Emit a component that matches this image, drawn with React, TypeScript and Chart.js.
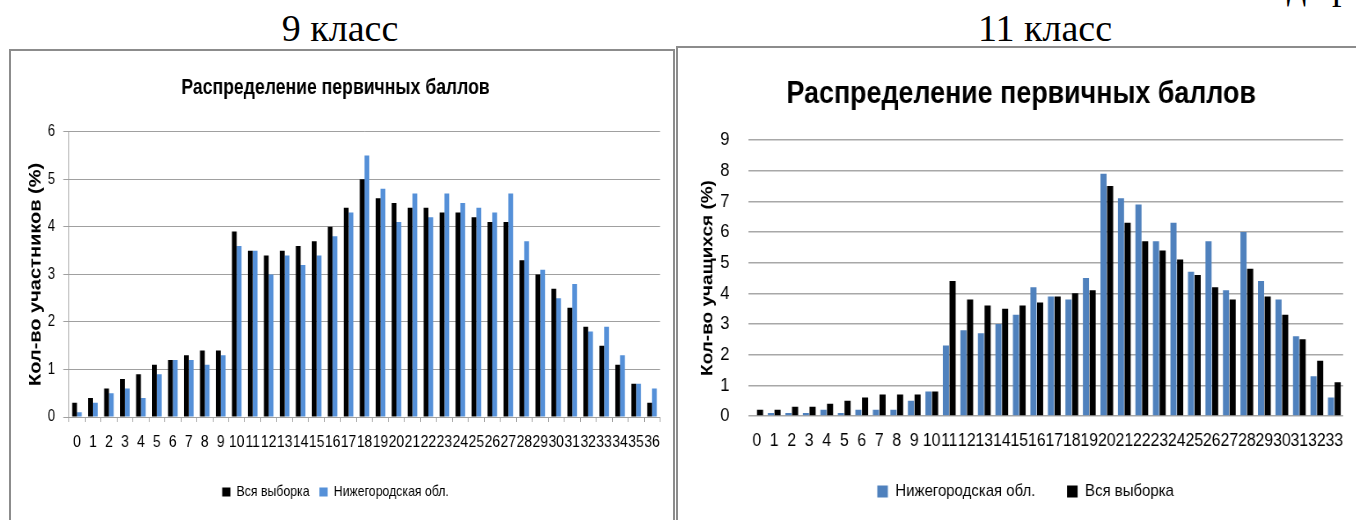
import React, { useEffect, useRef } from "react";
import { Chart, registerables } from "chart.js";

Chart.register(...registerables);

// ---------- 9 класс ----------
const scores9 = ["0","1","2","3","4","5","6","7","8","9","10","11","12","13","14","15","16","17","18","19","20","21","22","23","24","25","26","27","28","29","30","31","32","33","34","35","36"];
const all9 = [0.3,0.4,0.6,0.8,0.9,1.1,1.2,1.3,1.4,1.4,3.9,3.5,3.4,3.5,3.6,3.7,4.0,4.4,5.0,4.6,4.5,4.4,4.4,4.3,4.3,4.2,4.1,4.1,3.3,3.0,2.7,2.3,1.9,1.5,1.1,0.7,0.3];
const nn9 = [0.1,0.3,0.5,0.6,0.4,0.9,1.2,1.2,1.1,1.3,3.6,3.5,3.0,3.4,3.2,3.4,3.8,4.3,5.5,4.8,4.1,4.7,4.2,4.7,4.5,4.4,4.3,4.7,3.7,3.1,2.5,2.8,1.8,1.9,1.3,0.7,0.6];

// ---------- 11 класс ----------
const scores11 = ["0","1","2","3","4","5","6","7","8","9","10","11","12","13","14","15","16","17","18","19","20","21","22","23","24","25","26","27","28","29","30","31","32","33"];
const nn11 = [0,0.1,0.1,0.1,0.2,0.1,0.2,0.2,0.2,0.5,0.8,2.3,2.8,2.7,3.0,3.3,4.2,3.9,3.8,4.5,7.9,7.1,6.9,5.7,6.3,4.7,5.7,4.1,6.0,4.4,3.8,2.6,1.3,0.6];
const all11 = [0.2,0.2,0.3,0.3,0.4,0.5,0.6,0.7,0.7,0.7,0.8,4.4,3.8,3.6,3.5,3.6,3.7,3.9,4.0,4.1,7.5,6.3,5.7,5.4,5.1,4.6,4.2,3.8,4.8,3.9,3.3,2.5,1.8,1.1];

const chartTitle = "Распределение первичных баллов";
const SANS = "'Liberation Sans', Arial, sans-serif";

// nudges the legend / title boxes after layout (the original centres them on its full, cropped frame)
function boxShift(legendDx: number, legendDy: number, titleDx: number): any {
  return {
    id: "boxShift",
    afterLayout(chart: any) {
      if (chart.legend) {
        chart.legend.left += legendDx;
        chart.legend.right += legendDx;
        chart.legend.top += legendDy;
        chart.legend.bottom += legendDy;
      }
      if (chart.titleBlock) {
        chart.titleBlock.left += titleDx;
        chart.titleBlock.right += titleDx;
      }
    },
  };
}

function config9(): any {
  return {
    type: "bar",
    data: {
      labels: scores9,
      datasets: [
        { label: "Вся выборка", data: all9, backgroundColor: "#000000", categoryPercentage: 0.6, barPercentage: 1.0 },
        { label: "Нижегородская обл.", data: nn9, backgroundColor: "#5590d8", categoryPercentage: 0.6, barPercentage: 1.0 },
      ],
    },
    options: {
      animation: false,
      responsive: false,
      maintainAspectRatio: false,
      layout: { padding: { left: 0, right: 14.5, top: 0, bottom: 10.5 } },
      plugins: {
        tooltip: { enabled: false },
        title: {
          display: true,
          text: chartTitle,
          color: "#000",
          font: { family: SANS, size: 21.5, weight: "bold" },
          padding: { top: 24, bottom: 31 },
        },
        legend: {
          position: "bottom",
          labels: {
            color: "#000",
            font: { family: SANS, size: 15 },
            boxWidth: 10,
            boxHeight: 9,
            padding: 12,
          },
        },
      },
      scales: {
        x: {
          grid: { display: true, drawOnChartArea: false, drawTicks: true, tickLength: 5, color: "#a0a0a0", offset: true },
          border: { display: true, color: "#a0a0a0" },
          ticks: { color: "#000", font: { family: SANS, size: 17 }, autoSkip: false, maxRotation: 0, minRotation: 0, padding: 10 },
          afterFit: (s: any) => { s.height = 55.5; },
        },
        y: {
          min: 0,
          max: 6,
          ticks: { stepSize: 1, color: "#000", font: { family: SANS, size: 16 }, padding: 10 },
          grid: { color: "#a0a0a0", tickLength: 7, drawTicks: true },
          border: { display: true, color: "#a0a0a0" },
          title: {
            display: true,
            text: "Кол-во участников (%)",
            color: "#000",
            font: { family: SANS, size: 20, weight: "bold" },
            padding: { top: 18, bottom: 0 },
          },
          afterFit: (s: any) => { s.width = 70.7; },
        },
      },
    },
  };
}

function config11(): any {
  return {
    type: "bar",
    data: {
      labels: scores11,
      datasets: [
        { label: "Нижегородская обл.", data: nn11, backgroundColor: "#4f81bd", categoryPercentage: 0.76, barPercentage: 0.92 },
        { label: "Вся выборка", data: all11, backgroundColor: "#000000", categoryPercentage: 0.76, barPercentage: 0.92 },
      ],
    },
    options: {
      animation: false,
      responsive: false,
      maintainAspectRatio: false,
      layout: { padding: { left: 0, right: 10, top: 0, bottom: 0 } },
      plugins: {
        tooltip: { enabled: false },
        title: {
          display: true,
          text: chartTitle,
          color: "#000",
          font: { family: SANS, size: 30.5, weight: "bold" },
          padding: { top: 28.7, bottom: 26.7 },
        },
        legend: {
          position: "bottom",
          maxHeight: 54,
          labels: {
            color: "#000",
            font: { family: SANS, size: 17 },
            boxWidth: 12,
            boxHeight: 12,
            padding: 36,
          },
        },
      },
      scales: {
        x: {
          grid: { display: false, drawTicks: false },
          border: { display: false },
          ticks: { color: "#000", font: { family: SANS, size: 18 }, autoSkip: false, maxRotation: 0, minRotation: 0, padding: 14 },
          afterFit: (s: any) => { s.height = 50; },
        },
        y: {
          min: 0,
          max: 9,
          ticks: { stepSize: 1, color: "#000", font: { family: SANS, size: 19 }, padding: 21 },
          grid: { color: "#a8a8a8", lineWidth: 1.5, drawTicks: false },
          border: { display: false },
          title: {
            display: true,
            text: "Кол-во учащихся (%)",
            color: "#000",
            font: { family: SANS, size: 19, weight: "bold" },
            padding: { top: 22.6, bottom: 0 },
          },
          afterFit: (s: any) => { s.width = 79.5; },
        },
      },
    },
    plugins: [boxShift(15, -19, 10)],
  };
}

function BarChart(props: { make: () => any; width: number; height: number; squeeze: number; left: number; top: number }) {
  const ref = useRef<HTMLCanvasElement | null>(null);
  useEffect(() => {
    if (!ref.current) return;
    const chart = new Chart(ref.current, props.make());
    return () => chart.destroy();
  }, []);
  return (
    <canvas
      ref={ref}
      width={props.width}
      height={props.height}
      style={{
        position: "absolute",
        left: props.left,
        top: props.top,
        width: props.width,
        height: props.height,
        transform: `scaleX(${props.squeeze})`,
        transformOrigin: "0 0",
      }}
    />
  );
}

const headingStyle: React.CSSProperties = {
  position: "absolute",
  fontFamily: "'Liberation Serif', 'Times New Roman', serif",
  fontSize: 38,
  lineHeight: "44px",
  color: "#000",
  whiteSpace: "nowrap",
  textAlign: "center",
};

export default function App() {
  return (
    <div style={{ position: "absolute", left: 0, top: 0, width: 1356, height: 520, overflow: "hidden", background: "#fff" }}>
      <div style={{ ...headingStyle, left: 1287, top: -36, textAlign: "left" }}>д</div>
      <div style={{ ...headingStyle, left: 1332, top: -36, textAlign: "left" }}>р</div>
      <div style={{ ...headingStyle, left: 190, top: 6, width: 300 }}>9 класс</div>
      <div style={{ ...headingStyle, left: 895, top: 6, width: 300 }}>11 класс</div>

      <div style={{ position: "absolute", left: 9, top: 49, width: 662, height: 500, border: "2px solid #8c8c8c" }} />
      <div style={{ position: "absolute", left: 676, top: 46, width: 700, height: 500, border: "2px solid #8c8c8c" }} />

      <BarChart make={config9} width={806} height={469} squeeze={0.82} left={11} top={51} />
      <BarChart make={config11} width={770} height={472} squeeze={0.88} left={678} top={48} />
    </div>
  );
}
